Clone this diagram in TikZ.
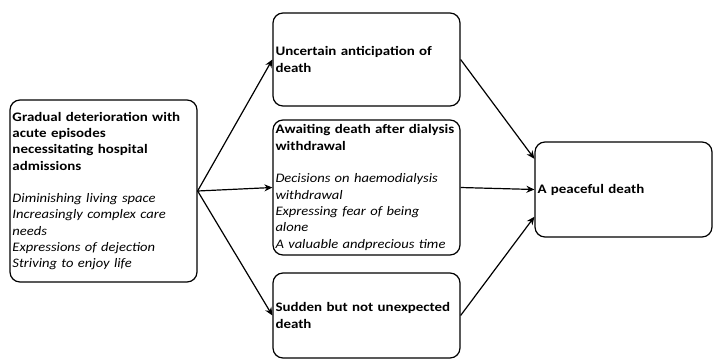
\documentclass[tikz,border=0pt]{standalone}
\usepackage{fontspec}
\setmainfont{Carlito}
\newfontfamily\headfont{Carlito}[FakeStretch=1.15]
\newfontfamily\itemfont{Carlito}[FakeStretch=1.12]
\usetikzlibrary{arrows.meta}

\begin{document}
\begin{tikzpicture}
  [x=1pt,y=-1pt,line width=1.2pt,>={Stealth[length=8pt,width=7pt]},
   every node/.style={draw,rounded corners=10pt,align=left,inner xsep=2.5pt,
     font=\fontsize{13}{16.3}\selectfont\headfont\bfseries}]
  \useasboundingbox (0,0) rectangle (714,362);
  \node[minimum width=187pt,minimum height=182pt,text width=182pt] (grad) at (103.5,191)
    {Gradual deterioration with\\acute episodes\\necessitating hospital\\admissions\\[16.3pt]
     \itemfont\mdseries\itshape Diminishing living space\\Increasingly complex care\\needs\\Expressions of dejection\\Striving to enjoy life};
  \node[minimum width=187pt,minimum height=93pt,text width=182pt] (unc) at (366.5,59.5)
    {Uncertain anticipation of\\death};
  \node[minimum width=187pt,minimum height=135pt,text width=182pt] (await) at (366.5,187.5)
    {Awaiting death after dialysis\\withdrawal\\[16.3pt]
     \itemfont\mdseries\itshape Decisions on haemodialysis\\withdrawal\\Expressing fear of being\\alone\\A valuable andprecious time};
  \node[minimum width=187pt,minimum height=85pt,text width=182pt] (sudden) at (366.5,315.5)
    {Sudden but not unexpected\\death};
  \node[minimum width=177pt,minimum height=95pt,text width=172pt] (peace) at (623.5,189.5)
    {A peaceful death};
  \foreach \from/\to in {grad.east/unc.west,grad.east/await.west,grad.east/sudden.west,
                         unc.east/peace.161,await.east/peace.west,sudden.east/peace.197}
    \draw[->] (\from) -- (\to);
\end{tikzpicture}
\end{document}
